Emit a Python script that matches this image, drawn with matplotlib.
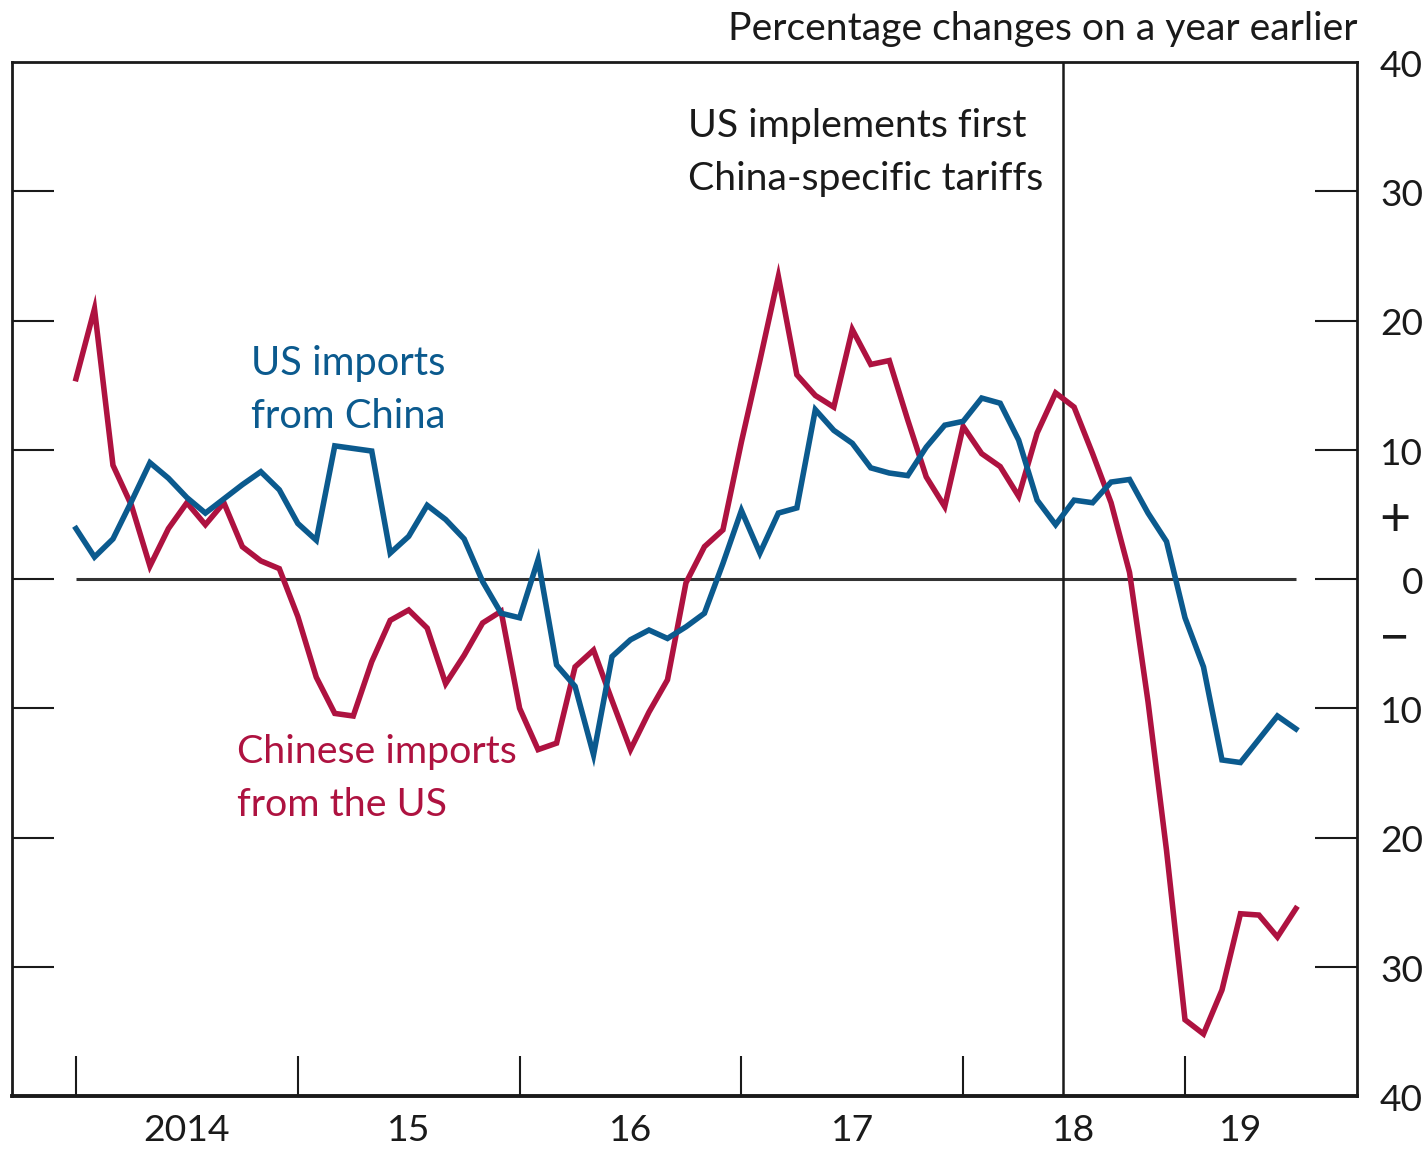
import matplotlib
matplotlib.use('Agg')
import matplotlib.pyplot as plt
import numpy as np
from matplotlib.transforms import blended_transform_factory

plt.rcParams['font.family'] = ['Lato', 'DejaVu Sans']

# ---------------- data (monthly, Jan 2014 .. Jul 2019) ----------------
months = np.arange(67)
us_imports_from_china = [
    3.9, 1.7, 3.1, 6.0, 9.0, 7.8, 6.3, 5.1, 6.2, 7.3, 8.3, 6.9,
    4.3, 3.0, 10.3, 10.1, 9.9, 2.0, 3.3, 5.7, 4.6, 3.1, -0.2, -2.65,
    -3.0, 1.5, -6.65, -8.3, -13.6, -6.0, -4.7, -3.95, -4.6, -3.7, -2.65, 1.2,
    5.3, 2.0, 5.1, 5.5, 13.1, 11.5, 10.5, 8.6, 8.2, 8.0, 10.2, 11.9,
    12.2, 14.0, 13.6, 10.75, 6.1, 4.2, 6.1, 5.9, 7.5, 7.7, 5.1, 2.9,
    -3.0, -6.8, -14.0, -14.2, -12.4, -10.6, -11.6,
]
chinese_imports_from_us = [
    15.5, 20.9, 8.8, 5.7, 1.0, 3.9, 5.9, 4.2, 5.9, 2.5, 1.4, 0.8,
    -2.9, -7.6, -10.4, -10.6, -6.4, -3.2, -2.4, -3.8, -8.1, -5.9, -3.4, -2.5,
    -10.0, -13.2, -12.7, -6.8, -5.5, -9.4, -13.2, -10.3, -7.8, -0.3, 2.5, 3.8,
    10.6, 16.9, 23.4, 15.8, 14.2, 13.3, 19.3, 16.6, 16.9, 12.3, 7.9, 5.6,
    11.8, 9.7, 8.7, 6.4, 11.3, 14.4, 13.3, 9.7, 5.9, 0.5, -9.5, -21.0,
    -34.1, -35.2, -31.8, -25.9, -26.0, -27.7, -25.5,
]
year_ticks = [0, 12, 24, 36, 48, 60]
year_labels = ['2014', '15', '16', '17', '18', '19']
year_label_pos = [6, 18, 30, 42, 54, 63]
y_ticks = [-30, -20, -10, 0, 10, 20, 30]
y_label_values = [40, 30, 20, 10, 0, -10, -20, -30, -40]
y_label_texts = ['40', '30', '20', '10', '0', '10', '20', '30', '40']
tariff_month = 53.4

BLUE = '#0B5A8E'
RED = '#AE1240'
INK = '#1a1a1a'

# ---------------- layout ----------------
W, H = 1428, 1149
fig = plt.figure(figsize=(W / 100, H / 100), dpi=100)
L, R, T, B = 12, 1357, 62, 1096
ax = fig.add_axes([L / W, 1 - B / H, (R - L) / W, (B - T) / H])
px_per_month = (1185 - 76) / 60.0
ax.set_xlim(-(76 - L) / px_per_month, (R - 76) / px_per_month)
ax.set_ylim(-40, 40)

for s in ['left', 'right', 'top']:
    ax.spines[s].set_linewidth(2.0)
    ax.spines[s].set_color(INK)
ax.spines['bottom'].set_linewidth(2.8)
ax.spines['bottom'].set_color(INK)

ax.set_xticks(year_ticks)
ax.set_yticks(y_ticks)
ax.tick_params(axis='x', direction='in', length=29, width=1.5, color=INK,
               labelbottom=False)
ax.tick_params(axis='y', direction='in', length=30, width=1.5, color=INK,
               left=True, right=True, labelleft=False, labelright=False)

# zero line and tariff line
ax.plot([months[0], months[-1]], [0, 0], color='#333333', lw=2.2, zorder=2,
        solid_capstyle='butt')
ax.axvline(tariff_month, color=INK, lw=1.8, zorder=2)

ax.plot(months, chinese_imports_from_us, color=RED, lw=4.0, zorder=3,
        solid_joinstyle='miter')
ax.plot(months, us_imports_from_china, color=BLUE, lw=4.0, zorder=4,
        solid_joinstyle='miter')

renderer = fig.canvas.get_renderer()


def fit(texts, target_px):
    w = texts[0].get_window_extent(renderer).width
    f = texts[0].get_fontsize() * target_px / w
    for t in texts:
        t.set_fontsize(f)


def px2ax(xp, yp):
    return (xp - L) / (R - L), (B - yp) / (B - T)


def put(xp, yp, s, **kw):
    x, y = px2ax(xp, yp)
    return ax.text(x, y, s, transform=ax.transAxes, va='baseline',
                   clip_on=False, fontsize=24, **kw)


# title
t_title = fig.text(1358 / W, 1 - 40 / H, 'Percentage changes on a year earlier',
                   ha='right', va='baseline', fontsize=24, color=INK)
fit([t_title], 630)

# annotations
a1 = put(688, 137, 'US implements first', color=INK, ha='left')
a2 = put(688, 190, 'China-specific tariffs', color=INK, ha='left')
fit([a2, a1], 355)

b1 = put(251, 375, 'US imports', color=BLUE, ha='left')
b2 = put(251, 428, 'from China', color=BLUE, ha='left')
fit([b1, b2], 195)

r1 = put(237, 763, 'Chinese imports', color=RED, ha='left')
r2 = put(237, 816, 'from the US', color=RED, ha='left')
fit([r1, r2], 280)

# year labels
trx = blended_transform_factory(ax.transData, ax.transAxes)
ylab = []
for pos, lab in zip(year_label_pos, year_labels):
    ylab.append(ax.text(pos, (B - 1141) / (B - T), lab, transform=trx,
                        ha='center', va='baseline', fontsize=24, color=INK,
                        clip_on=False))
fit(ylab, 87)

# right-hand labels
tr_r = blended_transform_factory(ax.transAxes, ax.transData)
xr = (1423 - L) / (R - L)
rlab = []
for v, lab in zip(y_label_values, y_label_texts):
    rlab.append(ax.text(xr, v - 1.15, lab, transform=tr_r, ha='right',
                        va='baseline', fontsize=24, color=INK, clip_on=False))
fit(rlab, 43)
fs = rlab[0].get_fontsize()
xs = (1379 - L) / (R - L)
ax.text(xs, 4.5, '+', transform=tr_r, ha='left', va='center',
        fontsize=fs * 1.45, color=INK, clip_on=False)
ax.text(xs, -4.6, '\u2212', transform=tr_r, ha='left', va='center',
        fontsize=fs * 1.45, color=INK, clip_on=False)

fig.savefig('out.png', dpi=100, facecolor='white')
